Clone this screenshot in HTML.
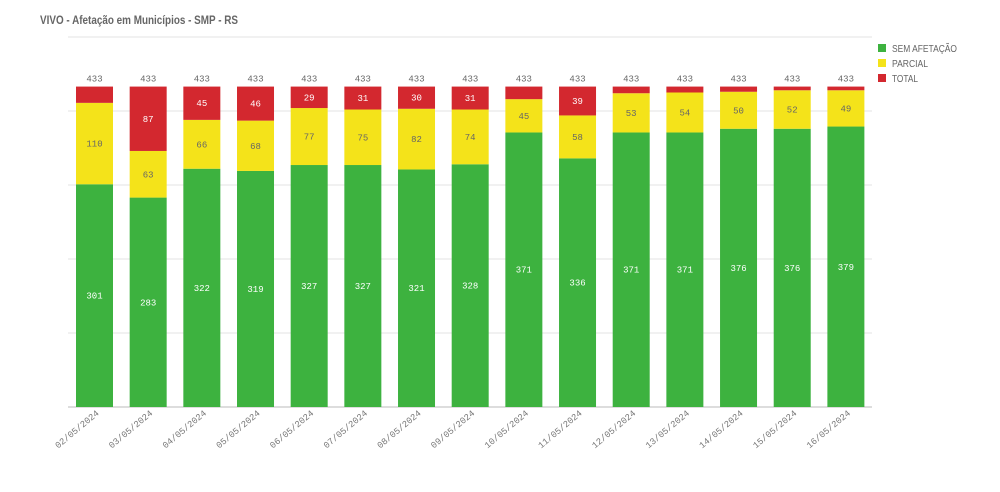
<!DOCTYPE html>
<html><head><meta charset="utf-8"><style>
body{margin:0;background:#fff;width:1000px;height:492px;overflow:hidden}
svg{display:block}
</style></head><body>
<svg id="c" width="1000" height="492" xmlns="http://www.w3.org/2000/svg">
<text x="40" y="24" font-family="Liberation Sans, sans-serif" font-size="12" font-weight="bold" fill="#666" textLength="198" lengthAdjust="spacingAndGlyphs">VIVO - Afetação em Municípios - SMP - RS</text>
<g font-family="Liberation Sans, sans-serif" font-size="10" fill="#666">
<rect x="878" y="44" width="8" height="8" fill="#3db23f"/><text x="892" y="52" textLength="65" lengthAdjust="spacingAndGlyphs">SEM AFETAÇÃO</text>
<rect x="878" y="59" width="8" height="8" fill="#f4e31a"/><text x="892" y="67" textLength="36" lengthAdjust="spacingAndGlyphs">PARCIAL</text>
<rect x="878" y="74" width="8" height="8" fill="#d3282f"/><text x="892" y="82" textLength="26" lengthAdjust="spacingAndGlyphs">TOTAL</text>
</g>
</svg>
<script>
var d=[[301,110,"02"],[283,63,"03"],[322,66,"04"],[319,68,"05"],[327,77,"06"],[327,75,"07"],[321,82,"08"],[328,74,"09"],[371,45,"10"],[336,58,"11"],[371,53,"12"],[371,54,"13"],[376,50,"14"],[376,52,"15"],[379,49,"16"]];
var s=370/500,B=407,h='';
for(var k=0;k<=5;k++){var y=B-k*74;h+='<line x1="68" x2="872" y1="'+y+'" y2="'+y+'" stroke="'+(k?'#e3e3e3':'#bbb')+'" stroke-width="1"/>';}
var f='font-family="Liberation Mono, monospace" font-size="9" text-anchor="middle"';
d.forEach(function(r,i){
var x=76+53.67*i,cx=x+18.5,g=r[0],yl=r[1],rd=433-g-yl;
var gt=B-g*s,yt=gt-yl*s,top=B-433*s;
h+='<rect x="'+x+'" y="'+gt+'" width="37" height="'+(g*s)+'" fill="#3db23f"/>';
h+='<rect x="'+x+'" y="'+yt+'" width="37" height="'+(yl*s)+'" fill="#f4e31a"/>';
h+='<rect x="'+x+'" y="'+top+'" width="37" height="'+(yt-top)+'" fill="#d3282f"/>';
h+='<text x="'+cx+'" y="'+((gt+B)/2+3)+'" '+f+' fill="#fff">'+g+'</text>';
h+='<text x="'+cx+'" y="'+((yt+gt)/2+3)+'" '+f+' fill="#666">'+yl+'</text>';
if(rd>=25)h+='<text x="'+cx+'" y="'+((top+yt)/2+3)+'" '+f+' fill="#fff">'+rd+'</text>';
h+='<text x="'+cx+'" y="'+(top-5)+'" '+f+' fill="#666">433</text>';
h+='<text transform="translate('+(cx+5)+',414) rotate(-40)" text-anchor="end" font-family="Liberation Mono, monospace" font-size="9" fill="#777">'+r[2]+'/05/2024</text>';
});
document.getElementById('c').insertAdjacentHTML('beforeend',h);
</script>
</body></html>
